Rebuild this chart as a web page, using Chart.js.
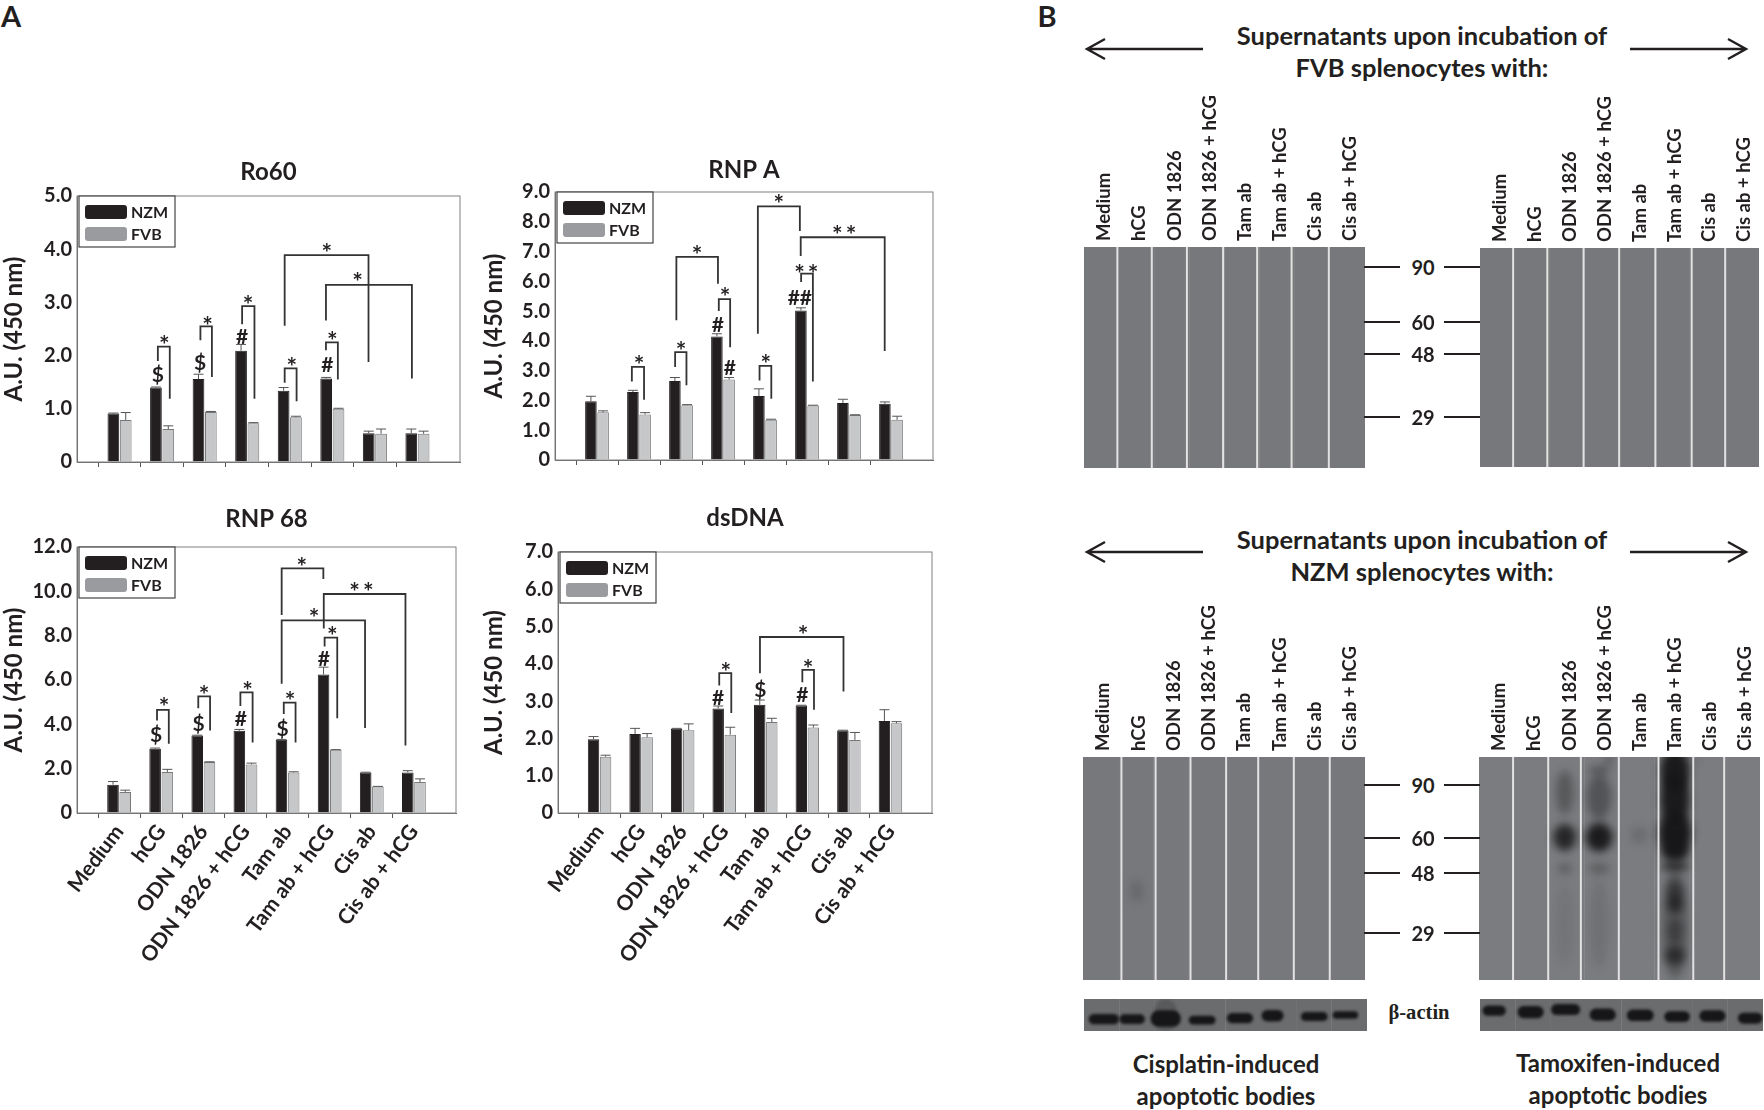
<!DOCTYPE html>
<html>
<head>
<meta charset="utf-8">
<title>Autoantibodies and western blots</title>
<script src="https://cdn.jsdelivr.net/npm/chart.js@4"></script>
<style>
  html, body { margin: 0; padding: 0; background: #fff; }
  #page { position: relative; width: 1764px; height: 1110px; overflow: hidden; font-family: Lato, sans-serif; color: #231f20; }
  canvas { position: absolute; }
  .txt { position: absolute; transform: translate(-50%, -50%); white-space: nowrap; font-weight: 700; }
  .head { font-size: 25px; transform: translate(-50%, -50%) scaleX(1.02); }
  .foot { font-size: 25px; transform: translate(-50%, -50%) scaleX(.96); }
  .mark { font-size: 20px; }
  .line { position: absolute; height: 2px; background: #231f20; }
  svg { position: absolute; left: 0; top: 0; }
</style>
</head>
<body>
<div id="page">
  <div class="txt" style="left:11px;top:15px;font-size:29px">A</div>
  <div class="txt" style="left:1047px;top:15px;font-size:29px">B</div>

  <div class="txt head" style="left:1422px;top:35px">Supernatants upon incubation of</div>
  <div class="txt head" style="left:1422px;top:67px">FVB splenocytes with:</div>
  <div class="txt head" style="left:1422px;top:539px">Supernatants upon incubation of</div>
  <div class="txt head" style="left:1422px;top:571px">NZM splenocytes with:</div>

  <div class="txt foot" style="left:1226px;top:1063px">Cisplatin-induced</div>
  <div class="txt foot" style="left:1226px;top:1095px">apoptotic bodies</div>
  <div class="txt foot" style="left:1618px;top:1062px">Tamoxifen-induced</div>
  <div class="txt foot" style="left:1618px;top:1094px">apoptotic bodies</div>
  <div class="txt" style="left:1419px;top:1012px;font-size:21px;font-family:'Liberation Serif',serif;transform:translate(-50%,-50%) scaleX(.98)">β-actin</div>

  <svg width="1764" height="1110" fill="none" stroke="#231f20" stroke-width="2.4">
    <path d="M1203 49H1087M1105 39L1087 49L1105 59"/>
    <path d="M1630 49H1746M1728 39L1746 49L1728 59"/>
    <path d="M1203 552H1087M1105 542L1087 552L1105 562"/>
    <path d="M1630 552H1746M1728 542L1746 552L1728 562"/>
  </svg>
</div>

<script>
// treatment groups, same order on every panel
var categories = ['Medium', 'hCG', 'ODN 1826', 'ODN 1826 + hCG', 'Tam ab', 'Tam ab + hCG', 'Cis ab', 'Cis ab + hCG'];

var ro60Nzm = [0.91, 1.40, 1.56, 2.09, 1.34, 1.57, 0.54, 0.54];
var ro60Fvb = [0.79, 0.62, 0.94, 0.73, 0.84, 1.00, 0.53, 0.53];
var ro60NzmErr = [0.01, 0.01, 0.09, 0.12, 0.06, 0.02, 0.04, 0.08];
var ro60FvbErr = [0.14, 0.06, 0.01, 0.01, 0.02, 0.01, 0.09, 0.05];

var rnpANzm = [1.97, 2.28, 2.65, 4.15, 2.15, 5.02, 1.91, 1.89];
var rnpAFvb = [1.60, 1.53, 1.84, 2.70, 1.35, 1.83, 1.51, 1.35];
var rnpANzmErr = [0.17, 0.06, 0.12, 0.09, 0.24, 0.09, 0.13, 0.06];
var rnpAFvbErr = [0.05, 0.06, 0.02, 0.07, 0.02, 0.01, 0.01, 0.12];

var rnp68Nzm = [1.28, 2.90, 3.50, 3.71, 3.30, 6.25, 1.83, 1.83];
var rnp68Fvb = [0.95, 1.85, 2.30, 2.19, 1.83, 2.85, 1.19, 1.40];
var rnp68NzmErr = [0.14, 0.03, 0.01, 0.06, 0.02, 0.33, 0.01, 0.08];
var rnp68FvbErr = [0.08, 0.12, 0.01, 0.06, 0.03, 0.01, 0.01, 0.14];

var dsDnaNzm = [1.98, 2.12, 2.26, 2.80, 2.90, 2.88, 2.21, 2.47];
var dsDnaFvb = [1.51, 2.03, 2.22, 2.10, 2.44, 2.29, 1.96, 2.41];
var dsDnaNzmErr = [0.07, 0.15, 0.01, 0.07, 0.13, 0.01, 0.01, 0.30];
var dsDnaFvbErr = [0.04, 0.10, 0.17, 0.20, 0.10, 0.07, 0.20, 0.04];

// significance brackets: [xLeft, yLeftEnd, xRight, yRightEnd, yTop, label, xLabel, yLabel]
var ro60Brackets = [
    [1.90, 1.90, 2.18, 1.19, 2.17, '*', 2.05, 2.29],
    [2.90, 2.29, 3.17, 1.60, 2.55, '*', 3.07, 2.66],
    [3.88, 2.59, 4.17, 1.19, 2.93, '*', 4.02, 3.05],
    [4.88, 1.49, 5.16, 1.14, 1.76, '*', 5.05, 1.88],
    [5.85, 2.10, 6.13, 1.55, 2.25, '*', 6.00, 2.37],
    [4.88, 2.56, 6.85, 1.88, 3.89, '*', 5.87, 4.02],
    [5.85, 2.66, 7.87, 1.57, 3.33, '*', 6.59, 3.47]
];
var ro60Symbols = [['$', 1.90, 1.63], ['$', 2.89, 1.86], ['#', 3.88, 2.35], ['#', 5.88, 1.82]];

var rnpABrackets = [
    [1.83, 2.64, 2.12, 2.02, 3.13, '*', 2.00, 3.37],
    [2.86, 3.12, 3.13, 2.51, 3.62, '*', 3.00, 3.84],
    [3.90, 5.00, 4.17, 3.79, 5.40, '*', 4.05, 5.65],
    [4.87, 2.67, 5.15, 2.06, 3.16, '*', 5.02, 3.39],
    [5.86, 5.98, 6.14, 2.64, 6.26, '**', 6.02, 6.43],
    [2.89, 4.69, 3.88, 5.92, 6.82, '*', 3.38, 7.04],
    [4.83, 4.24, 5.83, 7.69, 8.52, '*', 5.33, 8.76],
    [5.85, 6.85, 7.85, 3.66, 7.48, '**', 6.92, 7.72]
];
var rnpASymbols = [['#', 3.88, 4.52], ['#', 4.16, 3.09], ['##', 5.83, 5.44]];

var rnp68Brackets = [
    [1.90, 4.17, 2.18, 3.12, 4.65, '*', 2.07, 5.02],
    [2.88, 4.73, 3.16, 3.72, 5.26, '*', 3.02, 5.53],
    [3.88, 4.83, 4.17, 3.18, 5.44, '*', 4.05, 5.74],
    [4.91, 4.47, 5.19, 3.18, 4.98, '*', 5.06, 5.30],
    [5.88, 7.51, 6.18, 4.28, 7.91, '*', 6.06, 8.20],
    [4.86, 8.93, 5.85, 10.56, 11.04, '*', 5.34, 11.31],
    [4.86, 5.83, 6.84, 3.84, 8.69, '*', 5.63, 9.01],
    [5.86, 8.32, 7.80, 3.05, 9.88, '**', 6.79, 10.18]
];
var rnp68Symbols = [['$', 1.88, 3.53], ['$', 2.89, 4.01], ['#', 3.89, 4.23], ['$', 4.88, 3.80], ['#', 5.86, 6.94]];

var dsDnaBrackets = [
    [3.88, 3.42, 4.17, 2.68, 3.75, '*', 4.04, 3.91],
    [5.88, 3.51, 6.16, 2.77, 3.84, '*', 6.02, 4.00],
    [4.86, 3.75, 6.87, 3.26, 4.72, '*', 5.90, 4.91]
];
var dsDnaSymbols = [['#', 3.85, 3.08], ['$', 4.87, 3.30], ['#', 5.88, 3.17]];

// blot lanes
var laneFill = [100, 100, 100, 100, 100, 100, 100, 100];
var markerLabels = ['90', '60', '48', '29'];

// lane separators, in lanes from the left edge of each blot
var edgesFvbCis = [0.95, 1.93, 2.93, 3.96, 4.93, 5.91, 6.97];
var edgesFvbTam = [0.95, 1.93, 2.97, 3.99, 5.03, 6.07, 7.03];
var edgesNzmCis = [1.09, 2.06, 3.05, 4.06, 4.97, 5.98, 7.00];
var edgesNzmTam = [0.97, 1.97, 2.90, 3.98, 5.11, 6.10, 6.98];

// dark signal on the blots: [lane x, % from top, half width in lanes, half height in %, strength]
var nzmCisSmears = [[1.52, 60, 0.20, 5, 0.15]];
var nzmTamSmears = [
    [2.44, 16, 0.25, 10, 0.35], [2.44, 36, 0.32, 6, 0.85], [2.44, 50, 0.20, 2.5, 0.30], [2.44, 75, 0.25, 18, 0.08],
    [3.42, 6, 0.30, 2, 0.40], [3.42, 18, 0.35, 10, 0.40], [3.42, 36, 0.38, 6.5, 0.95], [3.42, 50, 0.30, 2.5, 0.30],
    [3.42, 75, 0.28, 20, 0.10], [3.70, 1.5, 0.06, 1.5, 0.90],
    [4.56, 35, 0.25, 4, 0.15],
    [5.58, 75, 0.38, 25, 0.30], [5.58, 6, 0.42, 10, 0.95], [5.58, 19, 0.42, 12, 0.95], [5.58, 34, 0.47, 10, 0.98],
    [5.58, 42, 0.38, 5, 0.90], [5.58, 49, 0.40, 2, 0.85], [5.58, 60, 0.22, 5, 0.55], [5.58, 66, 0.22, 4.5, 0.75],
    [5.58, 78, 0.22, 6, 0.45], [5.58, 89, 0.28, 4.5, 0.70], [6.18, 1, 0.03, 1, 0.80]
];

// beta-actin bands
var actinCisBands = [
    [2.31, 50, 0.30, 50, 0.20],
    [0.56, 63, 0.43, 16, 1], [1.36, 63, 0.36, 15, 1], [2.31, 61, 0.43, 26, 1], [3.34, 66, 0.38, 14, 1],
    [4.41, 60, 0.37, 16, 1], [5.33, 52, 0.31, 18, 1], [6.51, 55, 0.38, 14, 1], [7.39, 50, 0.36, 12, 1]
];
var actinTamBands = [
    [0.40, 36, 0.33, 16, 1], [1.43, 41, 0.37, 19, 1], [2.42, 33, 0.41, 17, 1], [3.47, 49, 0.37, 19, 1],
    [4.53, 51, 0.38, 18, 1], [5.57, 55, 0.36, 17, 1], [6.57, 53, 0.37, 18, 1], [7.64, 60, 0.35, 17, 1]
];

var page = document.getElementById('page');
var inkColor = '#231f20';
var legendColors = ['#231f20', '#9a9b9f'];

function addCanvas(left, top, width, height) {
    var c = document.createElement('canvas');
    c.width = Math.round(width);
    c.height = Math.round(height);
    c.style.left = left + 'px';
    c.style.top = top + 'px';
    page.appendChild(c);
    return c;
}

// frame, error bars, brackets and the small legend box of panel A
var panelPlugin = {
    id: 'panelPlugin',
    afterDatasetsDraw: function (chart) {
        var ctx = chart.ctx, y = chart.scales.y, a = chart.chartArea;
        ctx.save();
        ctx.strokeStyle = '#808082';
        ctx.lineWidth = 1;
        ctx.strokeRect(a.left, a.top, a.right - a.left, a.bottom - a.top);
        ctx.strokeStyle = '#555';
        chart.data.datasets.forEach(function (ds, i) {
            var meta = chart.getDatasetMeta(i);
            meta.data.forEach(function (bar, k) {
                if (ds.data[k] === null) return;
                var top = y.getPixelForValue(ds.data[k] + ds.errors[k - 1]);
                ctx.beginPath();
                ctx.moveTo(bar.x, y.getPixelForValue(ds.data[k]));
                ctx.lineTo(bar.x, top);
                ctx.moveTo(bar.x - 5, top);
                ctx.lineTo(bar.x + 5, top);
                ctx.stroke();
            });
        });
        ctx.restore();
    },
    afterDraw: function (chart) {
        var ctx = chart.ctx, x = chart.scales.x, y = chart.scales.y, a = chart.chartArea;
        var opts = chart.options.plugins.panelPlugin;
        ctx.save();
        ctx.strokeStyle = '#333';
        ctx.fillStyle = inkColor;
        ctx.lineWidth = 1.8;
        ctx.textAlign = 'center';
        ctx.textBaseline = 'middle';
        opts.brackets.forEach(function (b) {
            ctx.beginPath();
            ctx.moveTo(x.getPixelForValue(b[0]), y.getPixelForValue(b[1]));
            ctx.lineTo(x.getPixelForValue(b[0]), y.getPixelForValue(b[4]));
            ctx.lineTo(x.getPixelForValue(b[2]), y.getPixelForValue(b[4]));
            ctx.lineTo(x.getPixelForValue(b[2]), y.getPixelForValue(b[3]));
            ctx.stroke();
            ctx.font = '700 25px Lato';
            ctx.letterSpacing = b[5] === '**' ? '3px' : '0px';
            ctx.fillText(b[5], x.getPixelForValue(b[6]), y.getPixelForValue(b[7]) + 6);
        });
        ctx.letterSpacing = '0px';
        ctx.font = '700 21px Lato';
        opts.symbols.forEach(function (s) {
            ctx.fillText(s[0], x.getPixelForValue(s[1]), y.getPixelForValue(s[2]));
        });

        // legend box
        ctx.fillStyle = '#fff';
        ctx.strokeStyle = '#444';
        ctx.lineWidth = 1.2;
        ctx.fillRect(a.left + 2, a.top, 96, 51);
        ctx.strokeRect(a.left + 2, a.top, 96, 51);
        ctx.textAlign = 'left';
        ctx.font = '700 16px Lato';
        chart.data.datasets.forEach(function (ds, i) {
            ctx.fillStyle = legendColors[i];
            ctx.beginPath();
            ctx.roundRect(a.left + 8, a.top + 9 + i * 22, 42, 14, 3);
            ctx.fill();
            ctx.fillStyle = inkColor;
            ctx.fillText(ds.label, a.left + 54, a.top + 17 + i * 22);
        });
        ctx.restore();
    }
};

function makePanel(cfg) {
    var headH = 60, axisH = cfg.labels ? 160 : 20;
    var canvasLeft = cfg.left > 300 ? 480 : 0;
    var c = addCanvas(canvasLeft, cfg.top - headH, cfg.right - canvasLeft + 8, headH + (cfg.bottom - cfg.top) + axisH);
    new Chart(c, {
        type: 'bar',
        plugins: [panelPlugin],
        data: {
            labels: [''].concat(categories, ['']),
            datasets: [
                { label: 'NZM', data: [null].concat(cfg.nzm, [null]), errors: cfg.nzmErr, backgroundColor: '#231f20', borderColor: '#231f20', borderWidth: 1, categoryPercentage: 0.58, barPercentage: 0.95 },
                { label: 'FVB', data: [null].concat(cfg.fvb, [null]), errors: cfg.fvbErr, backgroundColor: '#c6c7c9', borderColor: '#77787a', borderWidth: 1, categoryPercentage: 0.58, barPercentage: 0.95 }
            ]
        },
        options: {
            responsive: false,
            animation: false,
            layout: { padding: { right: 8 } },
            plugins: {
                legend: { display: false },
                tooltip: { enabled: false },
                title: {
                    display: true,
                    text: cfg.title,
                    fullSize: false,
                    color: inkColor,
                    font: { family: 'Lato', size: 24, weight: '700' },
                    padding: { top: headH - 28.8 - cfg.titleGap, bottom: cfg.titleGap }
                },
                panelPlugin: { brackets: cfg.brackets, symbols: cfg.symbols }
            },
            scales: {
                x: {
                    offset: false,
                    afterFit: function (s) { s.height = axisH; s.paddingLeft = 0; s.paddingRight = 0; },
                    border: { color: '#666' },
                    grid: {
                        drawOnChartArea: false,
                        tickLength: 5,
                        tickColor: function (t) { return (t.index === 0 || t.index === 9) ? 'transparent' : '#555'; }
                    },
                    ticks: {
                        display: cfg.labels,
                        autoSkip: false,
                        minRotation: 53,
                        maxRotation: 53,
                        padding: 2,
                        color: inkColor,
                        font: { family: 'Lato', size: 21, weight: '700' }
                    }
                },
                y: {
                    min: 0,
                    max: cfg.max,
                    afterFit: function (s) { s.width = cfg.left - canvasLeft; },
                    border: { color: '#666' },
                    grid: { drawOnChartArea: false, drawTicks: false },
                    title: {
                        display: true,
                        text: 'A.U. (450 nm)',
                        color: inkColor,
                        padding: 0,
                        font: { family: 'Lato', size: 24, weight: '700' }
                    },
                    ticks: {
                        stepSize: cfg.step,
                        padding: 5,
                        color: inkColor,
                        font: { family: 'Lato', size: 20, weight: '700' },
                        callback: function (v) { return v === 0 ? '0' : v.toFixed(1); }
                    }
                }
            }
        }
    });
}

// gray lanes as bars, the signal on top of them
var blotPlugin = {
    id: 'blotPlugin',
    afterDatasetsDraw: function (chart) {
        var ctx = chart.ctx, x = chart.scales.x, y = chart.scales.y, a = chart.chartArea;
        var opts = chart.options.plugins.blotPlugin;
        var laneW = x.getPixelForValue(1) - x.getPixelForValue(0);
        ctx.save();
        ctx.beginPath();
        ctx.rect(a.left, a.top, a.right - a.left, a.bottom - a.top);
        ctx.clip();
        opts.marks.forEach(function (m) {
            var cx = x.getPixelForValue(m[0] - 0.5), cy = y.getPixelForValue(100 - m[1]);
            var rx = m[2] * laneW, ry = m[3] * (a.bottom - a.top) / 100;
            ctx.fillStyle = 'rgba(22,22,24,' + m[4] + ')';
            ctx.filter = 'blur(' + opts.blur + 'px)';
            ctx.beginPath();
            if (opts.rounded) ctx.roundRect(cx - rx, cy - ry, rx * 2, ry * 2, ry);
            else ctx.ellipse(cx, cy, rx, ry, 0, 0, Math.PI * 2);
            ctx.fill();
        });
        ctx.filter = 'none';
        ctx.strokeStyle = '#e2e2e2';
        ctx.lineWidth = 2;
        opts.edges.forEach(function (e) {
            var px = x.getPixelForValue(e - 0.5);
            ctx.beginPath();
            ctx.moveTo(px, a.top);
            ctx.lineTo(px, a.bottom);
            ctx.stroke();
        });
        ctx.restore();
    }
};

function makeBlot(cfg) {
    var labelH = cfg.labels ? 170 : 0;
    var c = addCanvas(cfg.left, cfg.top - labelH, cfg.right - cfg.left, cfg.bottom - cfg.top + labelH);
    new Chart(c, {
        type: 'bar',
        plugins: [blotPlugin],
        data: {
            labels: categories,
            datasets: [{ data: laneFill, backgroundColor: cfg.color, borderWidth: 0, categoryPercentage: 1, barPercentage: 1.01 }]
        },
        options: {
            responsive: false,
            animation: false,
            layout: { padding: 0 },
            plugins: {
                legend: { display: false },
                tooltip: { enabled: false },
                blotPlugin: { marks: cfg.marks || [], edges: cfg.edges || [], blur: cfg.blur || 4, rounded: !!cfg.rounded }
            },
            scales: {
                x: {
                    position: 'top',
                    display: cfg.labels,
                    afterFit: function (s) { s.height = labelH; s.paddingLeft = 0; s.paddingRight = 0; },
                    grid: { display: false, drawTicks: false },
                    border: { display: false },
                    ticks: {
                        autoSkip: false,
                        minRotation: 90,
                        maxRotation: 90,
                        padding: 6,
                        labelOffset: 25,
                        color: inkColor,
                        font: { family: 'Lato', size: 18.5, weight: '700' }
                    }
                },
                y: { display: false, min: 0, max: 100 }
            }
        }
    });
}

// size marker labels and their little lines between the blots
function addMarkers(rows) {
    markerLabels.forEach(function (label, i) {
        var t = document.createElement('div');
        t.className = 'txt mark';
        t.style.left = '1423px';
        t.style.top = rows[i] + 'px';
        t.textContent = label;
        page.appendChild(t);
        [[1364, 36], [1444, 36]].forEach(function (seg) {
            var l = document.createElement('div');
            l.className = 'line';
            l.style.left = seg[0] + 'px';
            l.style.width = seg[1] + 'px';
            l.style.top = (rows[i] - 1) + 'px';
            page.appendChild(l);
        });
    });
}

makePanel({ title: 'Ro60', titleGap: 9.3, left: 77, right: 460, top: 196, bottom: 462, max: 5, step: 1, labels: false,
    nzm: ro60Nzm, fvb: ro60Fvb, nzmErr: ro60NzmErr, fvbErr: ro60FvbErr, brackets: ro60Brackets, symbols: ro60Symbols });
makePanel({ title: 'RNP A', titleGap: 7.6, left: 555, right: 933, top: 192, bottom: 460, max: 9, step: 1, labels: false,
    nzm: rnpANzm, fvb: rnpAFvb, nzmErr: rnpANzmErr, fvbErr: rnpAFvbErr, brackets: rnpABrackets, symbols: rnpASymbols });
makePanel({ title: 'RNP 68', titleGap: 13.6, left: 77, right: 456, top: 547, bottom: 813, max: 12, step: 2, labels: true,
    nzm: rnp68Nzm, fvb: rnp68Fvb, nzmErr: rnp68NzmErr, fvbErr: rnp68FvbErr, brackets: rnp68Brackets, symbols: rnp68Symbols });
makePanel({ title: 'dsDNA', titleGap: 18.9, left: 558, right: 932, top: 552, bottom: 813, max: 7, step: 1, labels: true,
    nzm: dsDnaNzm, fvb: dsDnaFvb, nzmErr: dsDnaNzmErr, fvbErr: dsDnaFvbErr, brackets: dsDnaBrackets, symbols: dsDnaSymbols });

makeBlot({ left: 1084, right: 1365, top: 247, bottom: 468, labels: true, color: '#77787b', edges: edgesFvbCis });
makeBlot({ left: 1480, right: 1759, top: 248, bottom: 467, labels: true, color: '#77787b', edges: edgesFvbTam });
makeBlot({ left: 1083, right: 1365, top: 757, bottom: 980, labels: true, color: '#77787b', edges: edgesNzmCis, marks: nzmCisSmears });
makeBlot({ left: 1479, right: 1760, top: 757, bottom: 980, labels: true, color: '#7b7c7f', edges: edgesNzmTam, marks: nzmTamSmears });
makeBlot({ left: 1084, right: 1367, top: 999, bottom: 1031, labels: false, color: '#6b6c6d', marks: actinCisBands, blur: 1.5, rounded: true });
makeBlot({ left: 1480, right: 1763, top: 999, bottom: 1031, labels: false, color: '#6b6c6d', marks: actinTamBands, blur: 1.5, rounded: true });

addMarkers([267, 322, 354, 417]);
addMarkers([785, 838, 873, 933]);
</script>
</body>
</html>
